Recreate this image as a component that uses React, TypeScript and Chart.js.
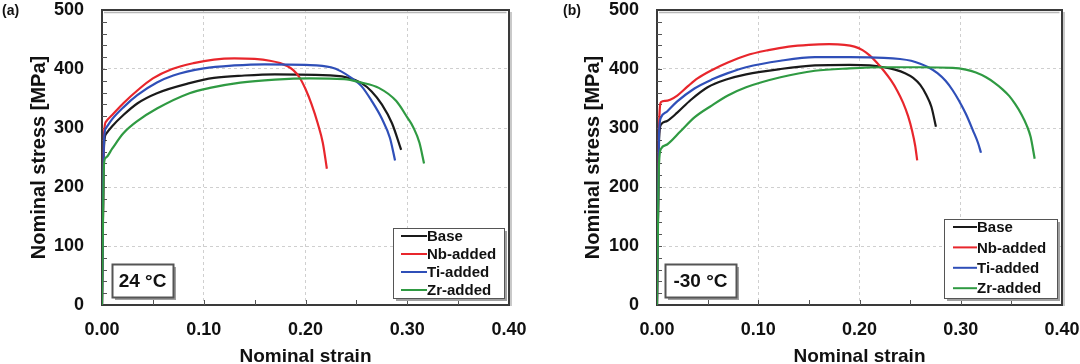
import React, { useEffect, useRef } from "react";
import { Chart, registerables } from "chart.js";
Chart.register(...registerables);

// ---------- data ----------
const seriesNames = ["Base", "Nb-added", "Ti-added", "Zr-added"];
const seriesColors = ["#1a1a1a", "#e8262c", "#2f4fb8", "#2f9a42"];

const strainTickLabels = ["0.00", "0.10", "0.20", "0.30", "0.40"];
const stressTickLabels = ["0", "100", "200", "300", "400", "500"];
const minorStressStep = 20;
const minorStrainStep = 0.05;

// 24 °C
const baseStrain24 = [0, 0.002, 0.004, 0.01, 0.021, 0.035, 0.054, 0.086, 0.11, 0.14, 0.17, 0.21, 0.24, 0.255, 0.265, 0.275, 0.285, 0.294];
const baseStress24 = [0, 270, 290, 303, 322, 342, 359, 376, 385, 389, 391, 390, 386, 376, 362, 340, 308, 263];
const nbStrain24 = [0, 0.002, 0.004, 0.01, 0.021, 0.035, 0.05, 0.069, 0.09, 0.11, 0.13, 0.15, 0.165, 0.175, 0.182, 0.188, 0.194, 0.2, 0.206, 0.212, 0.217, 0.221];
const nbStress24 = [0, 290, 311, 322, 342, 364, 384, 400, 410, 416, 418, 417, 414, 410, 405, 398, 386, 366, 340, 308, 275, 231];
const tiStrain24 = [0, 0.002, 0.004, 0.01, 0.021, 0.035, 0.054, 0.07, 0.1, 0.13, 0.16, 0.2, 0.225, 0.235, 0.245, 0.255, 0.265, 0.275, 0.283, 0.288];
const tiStress24 = [0, 280, 300, 315, 335, 356, 377, 389, 401, 406, 408, 407, 403, 396, 385, 371, 346, 316, 283, 245];
const zrStrain24 = [0, 0.002, 0.004, 0.01, 0.021, 0.035, 0.054, 0.086, 0.106, 0.136, 0.17, 0.204, 0.238, 0.255, 0.272, 0.289, 0.3, 0.306, 0.312, 0.3165];
const zrStress24 = [0, 240, 250, 265, 291, 312, 333, 359, 368, 377, 382, 384, 383, 377, 368, 346, 318, 301, 275, 240];

// -30 °C
const baseStrainM30 = [0, 0.002, 0.004, 0.01, 0.02, 0.033, 0.05, 0.07, 0.088, 0.122, 0.156, 0.19, 0.21, 0.224, 0.235, 0.245, 0.253, 0.26, 0.266, 0.271, 0.2755];
const baseStressM30 = [0, 280, 306, 312, 326, 347, 369, 383, 391, 400, 406, 407, 406, 403, 399, 393, 385, 373, 356, 336, 302];
const nbStrainM30 = [0, 0.002, 0.004, 0.008, 0.013, 0.02, 0.03, 0.04, 0.054, 0.07, 0.088, 0.11, 0.13, 0.15, 0.17, 0.185, 0.195, 0.203, 0.21, 0.217, 0.224, 0.231, 0.237, 0.243, 0.248, 0.252, 0.255, 0.257];
const nbStressM30 = [0, 300, 344, 346, 348, 355, 370, 384, 398, 411, 423, 432, 438, 441, 442, 441, 438, 432, 423, 411, 397, 381, 364, 343, 320, 295, 270, 245];
const tiStrainM30 = [0, 0.002, 0.004, 0.01, 0.02, 0.037, 0.054, 0.07, 0.088, 0.122, 0.156, 0.19, 0.224, 0.24, 0.251, 0.26, 0.268, 0.277, 0.285, 0.292, 0.298, 0.305, 0.312, 0.317, 0.32];
const tiStressM30 = [0, 290, 318, 328, 345, 367, 382, 393, 403, 414, 420, 420, 419, 417, 414, 409, 403, 393, 380, 364, 347, 324, 296, 275, 258];
const zrStrainM30 = [0, 0.002, 0.004, 0.01, 0.023, 0.037, 0.054, 0.07, 0.088, 0.122, 0.156, 0.19, 0.224, 0.258, 0.292, 0.305, 0.315, 0.325, 0.333, 0.341, 0.348, 0.354, 0.36, 0.365, 0.369, 0.373];
const zrStressM30 = [0, 240, 265, 272, 294, 318, 338, 355, 369, 386, 397, 401, 403, 403, 402, 399, 394, 386, 377, 366, 354, 340, 323, 305, 285, 248];

const FONT = "'Liberation Sans', Arial, sans-serif";

type Panel = {
  tag: string;
  temp: string;
  strains: number[][];
  stresses: number[][];
  yWidth: number;
  yTitleOffset: number;
  padRight: number;
  legend: { w: number; h: number; rowStart: number; rowGap: number; linePad: number; lineLen: number };
  tempBox: { left: number; w: number; h: number };
  tagX: number;
};

const panels: Panel[] = [
  {
    tag: "(a)",
    temp: "24 °C",
    strains: [baseStrain24, nbStrain24, tiStrain24, zrStrain24],
    stresses: [baseStress24, nbStress24, tiStress24, zrStress24],
    yWidth: 102,
    yTitleOffset: 27,
    padRight: 31,
    legend: { w: 111, h: 70, rowStart: 8, rowGap: 18, linePad: 8, lineLen: 26 },
    tempBox: { left: 10, w: 61, h: 33 },
    tagX: 2,
  },
  {
    tag: "(b)",
    temp: "-30 °C",
    strains: [baseStrainM30, nbStrainM30, tiStrainM30, zrStrainM30],
    stresses: [baseStressM30, nbStressM30, tiStressM30, zrStressM30],
    yWidth: 117,
    yTitleOffset: 41,
    padRight: 18,
    legend: { w: 113, h: 79, rowStart: 8, rowGap: 20.4, linePad: 9, lineLen: 24 },
    tempBox: { left: 8, w: 71, h: 33 },
    tagX: 23,
  },
];

function makeDecor(panel: Panel) {
  return {
    id: "decor",
    beforeDatasetsDraw(chart: any) {
      const { ctx, chartArea, scales } = chart;
      const { left, top, right, bottom } = chartArea;
      ctx.save();
      // shadow of frame
      ctx.strokeStyle = "#b8b8b8";
      ctx.lineWidth = 1.5;
      ctx.beginPath();
      ctx.moveTo(left + 2, top + 2.5);
      ctx.lineTo(right - 2.5, top + 2.5);
      ctx.moveTo(right + 2, top + 2);
      ctx.lineTo(right + 2, bottom + 1);
      ctx.stroke();
      // frame
      ctx.strokeStyle = "#3a3a3a";
      ctx.lineWidth = 2;
      ctx.strokeRect(left, top, right - left, bottom - top);
      // minor ticks
      ctx.strokeStyle = "#555";
      ctx.lineWidth = 1;
      ctx.beginPath();
      for (let v = minorStressStep; v < scales.y.max; v += minorStressStep) {
        const py = Math.round(scales.y.getPixelForValue(v)) + 0.5;
        ctx.moveTo(left, py);
        ctx.lineTo(left + 5, py);
      }
      for (let v = minorStrainStep; v < scales.x.max - 1e-9; v += minorStrainStep) {
        const px = Math.round(scales.x.getPixelForValue(v)) + 0.5;
        ctx.moveTo(px, bottom);
        ctx.lineTo(px, bottom - 5);
      }
      ctx.stroke();
      ctx.restore();
    },
    afterDraw(chart: any) {
      const { ctx, chartArea } = chart;
      const { left, right, bottom } = chartArea;
      ctx.save();
      // panel tag
      ctx.fillStyle = "#111";
      ctx.font = `bold 14px ${FONT}`;
      ctx.textBaseline = "middle";
      ctx.textAlign = "left";
      ctx.fillText(panel.tag, panel.tagX, 11);

      // legend
      const L = panel.legend;
      const lx = right - 5 - L.w;
      const ly = bottom - 7 - L.h;
      ctx.fillStyle = "#a0a0a0";
      ctx.fillRect(lx + 3, ly + 3, L.w, L.h);
      ctx.fillStyle = "#fff";
      ctx.fillRect(lx, ly, L.w, L.h);
      ctx.strokeStyle = "#555";
      ctx.lineWidth = 1;
      ctx.strokeRect(lx + 0.5, ly + 0.5, L.w, L.h);
      ctx.font = `bold 15px ${FONT}`;
      seriesNames.forEach((name, i) => {
        const cy = ly + L.rowStart + i * L.rowGap;
        ctx.strokeStyle = seriesColors[i];
        ctx.lineWidth = 2;
        ctx.beginPath();
        ctx.moveTo(lx + L.linePad, cy);
        ctx.lineTo(lx + L.linePad + L.lineLen, cy);
        ctx.stroke();
        ctx.fillStyle = "#111";
        ctx.fillText(name, lx + L.linePad + L.lineLen, cy + 1);
      });

      // temperature box
      const T = panel.tempBox;
      const tx = left + T.left;
      const ty = bottom - 8 - T.h;
      ctx.fillStyle = "#a0a0a0";
      ctx.fillRect(tx + 3, ty + 3, T.w, T.h);
      ctx.fillStyle = "#fff";
      ctx.fillRect(tx, ty, T.w, T.h);
      ctx.strokeStyle = "#555";
      ctx.strokeRect(tx + 0.5, ty + 0.5, T.w, T.h);
      ctx.fillStyle = "#111";
      ctx.font = `bold 19px ${FONT}`;
      ctx.textAlign = "center";
      ctx.fillText(panel.temp, tx + T.w / 2, ty + T.h / 2 + 1);
      ctx.restore();
    },
  };
}

function buildConfig(panel: Panel): any {
  const order = [3, 2, 1, 0];
  return {
    type: "line",
    data: {
      datasets: panel.strains.map((xs, i) => ({
        label: seriesNames[i],
        data: xs.map((x, j) => ({ x, y: panel.stresses[i][j] })),
        borderColor: seriesColors[i],
        backgroundColor: seriesColors[i],
        borderWidth: 2.2,
        pointRadius: 0,
        fill: false,
        cubicInterpolationMode: "monotone",
        order: order[i],
      })),
    },
    options: {
      animation: false,
      responsive: false,
      devicePixelRatio: 1,
      layout: { padding: { left: 0, top: 10, right: panel.padRight, bottom: 0 } },
      plugins: {
        legend: { display: false },
        tooltip: { enabled: false },
        title: { display: false },
      },
      scales: {
        x: {
          type: "linear",
          min: 0,
          max: 0.4,
          ticks: {
            stepSize: 0.1,
            autoSkip: false,
            maxRotation: 0,
            padding: 14,
            color: "#111",
            font: { family: FONT, size: 18, weight: "bold" },
            callback: (v: number) => strainTickLabels[Math.round(v * 10)] ?? "",
          },
          grid: { color: "#cfcfcf", lineWidth: 1, drawTicks: false },
          border: { display: false, dash: [3, 3] },
          title: {
            display: true,
            text: "Nominal strain",
            color: "#111",
            font: { family: FONT, size: 19, weight: "bold", lineHeight: 1.2 },
            padding: { top: 0, bottom: -4 },
          },
          afterFit: (s: any) => {
            s.height = 59;
            s.paddingLeft = 0;
            s.paddingRight = 0;
          },
        },
        y: {
          type: "linear",
          min: 0,
          max: 500,
          ticks: {
            stepSize: 100,
            padding: 18,
            color: "#111",
            font: { family: FONT, size: 18, weight: "bold" },
            callback: (v: number) => stressTickLabels[Math.round(v / 100)] ?? "",
          },
          grid: { color: "#cfcfcf", lineWidth: 1, drawTicks: false },
          border: { display: false, dash: [3, 3] },
          title: {
            display: true,
            text: "Nominal stress [MPa]",
            color: "#111",
            font: { family: FONT, size: 20, weight: "bold", lineHeight: 1.2 },
            padding: { top: panel.yTitleOffset, bottom: 0 },
          },
          afterFit: (s: any) => {
            s.width = panel.yWidth;
            s.paddingTop = 0;
            s.paddingBottom = 0;
          },
        },
      },
    },
    plugins: [makeDecor(panel)],
  };
}

function PanelChart({ panel }: { panel: Panel }) {
  const ref = useRef<HTMLCanvasElement | null>(null);
  useEffect(() => {
    if (!ref.current) return;
    const chart = new Chart(ref.current, buildConfig(panel));
    return () => chart.destroy();
  }, [panel]);
  return <canvas ref={ref} width={540} height={364} style={{ display: "block", width: 540, height: 364 }} />;
}

export default function App() {
  return (
    <div
      style={{
        position: "fixed",
        left: 0,
        top: 0,
        width: 1080,
        height: 364,
        background: "#fff",
        display: "flex",
      }}
    >
      {panels.map((p) => (
        <PanelChart key={p.tag} panel={p} />
      ))}
    </div>
  );
}
